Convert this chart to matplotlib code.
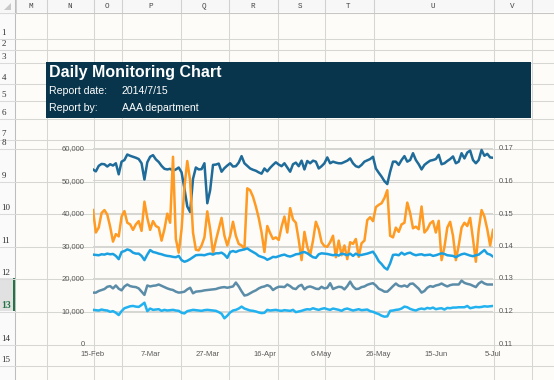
import numpy as np
import pandas as pd
import matplotlib
matplotlib.use("Agg")
import matplotlib.pyplot as plt
from matplotlib.ticker import FuncFormatter

plt.rcParams['font.family'] = ['Liberation Sans', 'DejaVu Sans']

# daily values (thousands), 15-Feb-2014 .. 5-Jul-2014
dates = pd.date_range('2014-02-15', '2014-07-05', freq='D')

s_top = [53.4, 52.8, 54.5, 55.1, 55.0, 54.3, 55.0, 54.6, 55.3, 51.9,
         55.8, 56.3, 58.0, 57.6, 57.3, 57.0, 56.6, 55.3, 50.3, 55.6,
         57.3, 57.8, 56.5, 55.7, 54.5, 53.6, 53.4, 53.6, 53.0, 53.4,
         54.0, 52.5, 47.5, 42.0, 40.3, 50.5, 54.0, 53.4, 53.5, 55.3,
         43.0, 47.0, 54.8, 54.9, 55.2, 52.7, 53.8, 54.6, 55.3, 54.3,
         54.4, 55.5, 57.5, 55.3, 54.5, 53.7, 53.3, 53.0, 52.5, 52.1,
         53.7, 52.8, 53.9, 54.8, 55.6, 54.9, 54.4, 55.3, 54.0, 52.7,
         55.0, 55.5, 54.4, 56.1, 53.4, 56.0, 55.3, 56.1, 55.8, 53.7,
         54.4, 55.3, 57.1, 55.3, 55.8, 55.5, 55.3, 55.3, 55.7, 56.1,
         56.8, 55.3, 54.4, 54.1, 54.8, 55.8, 56.2, 56.6, 57.3, 53.7,
         52.4, 51.2, 49.8, 48.9, 52.7, 55.8, 55.8, 54.8, 56.3, 57.5,
         55.8, 56.3, 58.4, 56.3, 55.0, 53.4, 54.8, 55.5, 56.1, 56.3,
         56.6, 57.9, 55.0, 55.3, 56.0, 56.6, 57.4, 55.3, 55.8, 58.4,
         56.8, 58.6, 59.2, 56.3, 55.3, 56.3, 59.4, 57.6, 58.2, 57.1,
         57.0]

s_orange = [40.9, 34.0, 35.5, 40.0, 40.9, 39.5, 35.8, 31.2, 33.5, 32.8,
            38.9, 40.6, 37.0, 36.5, 34.8, 36.5, 37.5, 34.5, 43.5, 38.5,
            34.8, 37.5, 36.0, 35.5, 31.5, 35.0, 39.8, 37.0, 57.3, 32.0,
            27.8, 35.0, 48.0, 56.0, 50.0, 34.0, 28.7, 28.5, 30.0, 32.5,
            40.5, 35.0, 27.6, 31.5, 35.0, 38.5, 33.0, 30.0, 33.0, 37.3,
            33.0, 30.5, 30.0, 29.0, 47.6, 47.0, 45.0, 42.0, 38.5, 34.0,
            28.0, 36.0, 33.8, 32.0, 32.5, 31.7, 35.8, 38.9, 34.0, 41.5,
            38.0, 37.0, 31.7, 25.5, 34.2, 29.6, 27.0, 31.5, 37.3, 35.0,
            31.0, 29.8, 29.6, 31.0, 33.0, 26.4, 31.5, 27.0, 30.0, 25.8,
            31.0, 30.5, 32.0, 26.5, 30.7, 31.5, 37.8, 38.7, 37.5, 41.8,
            42.5, 43.0, 44.6, 47.0, 33.0, 32.5, 35.5, 34.2, 36.5, 37.0,
            43.2, 40.0, 35.3, 35.8, 35.0, 42.0, 34.0, 35.0, 36.8, 37.5,
            34.0, 37.6, 25.5, 29.5, 35.5, 37.3, 33.0, 25.5, 30.0, 35.5,
            37.0, 36.0, 38.5, 32.0, 25.0, 35.0, 40.9, 38.9, 35.0, 30.0,
            34.8]

s_mid = [27.2, 27.1, 27.0, 27.3, 27.2, 27.5, 27.3, 27.4, 26.8, 25.8,
         28.0, 28.3, 28.8, 28.5, 27.8, 27.5, 27.5, 26.8, 25.5, 27.2,
         28.6, 28.0, 27.8, 27.5, 27.3, 27.0, 26.8, 26.7, 26.5, 26.4,
         26.8, 25.5, 25.0, 25.3, 25.8, 26.4, 27.0, 27.1, 27.1, 27.0,
         27.3, 27.5, 27.2, 27.6, 27.6, 27.8, 27.2, 26.2, 28.0, 28.3,
         28.0, 28.4, 28.6, 28.8, 29.1, 28.5, 28.0, 27.5, 26.8, 26.5,
         26.2, 25.6, 26.0, 26.5, 26.4, 26.7, 27.0, 27.2, 26.8, 26.6,
         26.9, 27.3, 27.4, 27.8, 28.0, 27.6, 27.0, 26.4, 26.2, 27.3,
         27.6, 27.5, 27.4, 27.2, 27.0, 27.2, 26.9, 27.5, 27.3, 27.0,
         27.5, 26.8, 27.5, 27.0, 27.1, 27.3, 27.5, 27.8, 28.1, 26.8,
         25.2, 24.3, 23.2, 22.6, 24.5, 27.1, 27.2, 27.0, 27.8, 27.2,
         27.6, 27.8, 27.3, 27.0, 27.2, 27.3, 27.0, 27.1, 27.2, 26.8,
         27.0, 27.3, 27.6, 27.4, 27.0, 26.9, 26.8, 26.4, 26.9, 27.3,
         27.5, 27.2, 26.9, 26.7, 27.0, 27.2, 27.9, 28.6, 27.5, 27.2,
         26.6]

s_gray = [15.5, 15.5, 16.0, 16.3, 16.6, 17.3, 17.5, 16.8, 17.7, 16.7,
          16.2, 17.4, 18.0, 17.5, 17.3, 17.2, 16.8, 15.8, 14.8, 17.7,
          17.4, 17.6, 17.7, 18.0, 17.6, 17.2, 16.8, 16.5, 16.3, 15.8,
          15.5, 15.6, 15.8, 16.5, 17.0, 15.3, 15.8, 15.9, 16.0, 16.2,
          16.3, 16.4, 16.5, 16.6, 16.9, 17.1, 17.2, 17.0, 17.2, 17.4,
          18.6, 17.4, 15.9, 14.6, 14.8, 15.3, 15.8, 16.2, 16.8, 17.2,
          17.4, 17.8, 17.4, 16.3, 16.9, 17.3, 17.3, 17.2, 18.0, 17.5,
          16.8, 16.6, 17.5, 17.9, 16.5, 17.2, 17.4, 17.1, 16.7, 16.6,
          17.3, 16.8, 17.0, 18.4, 16.6, 17.0, 17.3, 17.2, 16.5, 17.5,
          18.9, 17.4, 16.6, 16.7, 17.2, 17.4, 17.9, 18.2, 18.4, 17.7,
          16.7, 16.3, 15.8, 15.8, 16.6, 17.5, 18.3, 17.6, 17.4, 17.7,
          17.3, 18.2, 18.3, 17.5, 16.7, 15.5, 16.0, 17.0, 17.5, 17.3,
          17.7, 17.9, 18.3, 17.8, 17.4, 17.8, 18.0, 18.0, 18.0, 19.2,
          18.5, 18.2, 18.0, 17.6, 17.2, 18.3, 18.9, 18.3, 18.0, 18.0,
          18.0]

s_low = [10.2, 10.1, 10.0, 10.3, 10.1, 10.0, 9.6, 9.8, 9.3, 8.6,
         9.8, 10.7, 11.0, 11.3, 11.4, 11.2, 11.1, 11.7, 12.4, 9.8,
         10.6, 10.2, 10.3, 10.4, 9.9, 10.2, 10.0, 10.1, 10.2, 10.0,
         9.9, 9.3, 9.1, 9.8, 10.0, 10.2, 10.1, 10.0, 9.9, 10.1,
         10.2, 10.1, 10.0, 9.9, 9.5, 9.0, 7.6, 8.4, 9.4, 10.0,
         10.2, 10.6, 11.2, 10.6, 10.3, 10.0, 9.9, 9.7, 9.4, 9.2,
         9.3, 10.2, 10.0, 10.1, 10.2, 10.0, 9.9, 10.1, 10.0, 9.9,
         10.2, 9.5, 9.7, 9.9, 10.2, 10.4, 10.3, 10.7, 10.4, 10.2,
         10.5, 10.7, 10.4, 10.2, 10.6, 10.4, 10.2, 9.9, 10.4, 10.6,
         10.3, 10.0, 10.2, 10.4, 10.1, 10.2, 10.3, 9.8, 9.6, 9.2,
         8.9, 8.4, 8.1, 8.2, 9.9, 10.0, 10.2, 10.3, 10.6, 11.2,
         11.0, 10.5, 10.2, 10.0, 10.4, 10.6, 10.4, 10.8, 10.6, 10.9,
         10.4, 10.6, 10.7, 10.3, 10.8, 10.7, 10.9, 10.9, 11.0, 11.0,
         11.0, 11.4, 10.7, 10.9, 11.1, 11.0, 11.1, 11.3, 11.2, 11.3,
         11.4]

col_letters = ['M', 'N', 'O', 'P', 'Q', 'R', 'S', 'T', 'U', 'V']
col_edges = [15, 46, 93, 121, 180, 228, 277, 324, 373, 493, 531]
row_edges = [12, 38, 49, 62, 83, 100, 118, 139, 148, 181, 213, 246, 278, 311, 344, 365]

W, H = 554, 380
fig = plt.figure(figsize=(W / 100, H / 100), dpi=100)
fig.patch.set_facecolor('#fdfcf8')

# spreadsheet background, pixel coords
bg = fig.add_axes([0, 0, 1, 1])
bg.set_xlim(0, W)
bg.set_ylim(H, 0)
bg.axis('off')

grid_c = '#d6d6d3'
for y in row_edges[1:] + [380]:
    bg.plot([15, W], [y + 0.5, y + 0.5], color=grid_c, lw=0.75)
for x in col_edges[1:]:
    bg.plot([x + 0.5, x + 0.5], [0, H], color=grid_c, lw=0.75)

# column header
bg.add_patch(plt.Rectangle((0, 0), W, 12, color='#f7f7f7', lw=0))
bg.plot([0, W], [12.5, 12.5], color='#c6c6c6', lw=0.75)
for x in col_edges:
    bg.plot([x + 0.5, x + 0.5], [0, 12], color='#d0d0d0', lw=0.75)
for i, c in enumerate(col_letters):
    bg.text((col_edges[i] + col_edges[i + 1]) / 2, 6.5, c, fontsize=5.5,
            family='Liberation Mono', color='#444444', ha='center', va='center')
bg.add_patch(plt.Polygon([[11, 3], [11, 10], [4, 10]], color='#c8c8c8', lw=0))

# row header
bg.add_patch(plt.Rectangle((0, 12), 15, H - 12, color='#fafafa', lw=0))
bg.plot([14.5, 14.5], [0, H], color='#bdbdbd', lw=0.75)
for y in row_edges + [380]:
    bg.plot([0, 15], [y + 0.5, y + 0.5], color='#dadada', lw=0.75)
bg.add_patch(plt.Rectangle((0, 278), 13.5, 33, color='#e1e1e1', lw=0))
bg.add_patch(plt.Rectangle((13, 278), 2, 33, color='#217346', lw=0))
for i in range(len(row_edges) - 1):
    yb = row_edges[i + 1]
    if i + 1 == 13:
        bg.text(1, yb - 5, '13', fontsize=7, family='Liberation Serif',
                color='#217346', weight='bold', va='center', ha='left')
    else:
        bg.text(1.5, yb - 5, str(i + 1), fontsize=6.5, family='Liberation Serif',
                color='#333333', va='center', ha='left')

# title banner
bg.add_patch(plt.Rectangle((46, 62), 485, 56, color='#08354b', lw=0, zorder=3))
bg.text(49, 73, 'Daily Monitoring Chart', fontsize=11.5, weight='bold',
        color='white', va='center', ha='left', zorder=4)
bg.text(49, 91, 'Report date:', fontsize=7.6, color='white', va='center', zorder=4)
bg.text(122, 91, '2014/7/15', fontsize=7.6, color='white', va='center', zorder=4)
bg.text(49, 108, 'Report by:', fontsize=7.6, color='white', va='center', zorder=4)
bg.text(122, 108, 'AAA department', fontsize=7.6, color='white', va='center', zorder=4)

# chart
ax = fig.add_axes([93 / W, 1 - 343 / H, 400 / W, 195 / H])
ax.patch.set_alpha(0)
ax.plot(dates, np.array(s_top) * 1000, color='#1f6b99', lw=1.8)
ax.plot(dates, np.array(s_orange) * 1000, color='#ff9a22', lw=1.8)
ax.plot(dates, np.array(s_mid) * 1000, color='#1ba1e2', lw=1.8)
ax.plot(dates, np.array(s_gray) * 1000, color='#5b8ca8', lw=1.8)
ax.plot(dates, np.array(s_low) * 1000, color='#22b2f0', lw=1.8)

ax.set_xlim(dates[0], dates[-1])
ax.set_ylim(0, 60000)
ax.set_yticks(range(0, 60001, 10000))
ax.yaxis.set_major_formatter(FuncFormatter(lambda v, p: f'{v:,.0f}'))
ticks = pd.date_range('2014-02-15', '2014-07-05', freq='20D')
ax.set_xticks(ticks)
ax.set_xticklabels([f'{d.day}-{d.strftime("%b")}' for d in ticks])
ax.grid(axis='y', color='#d6d6d3', lw=0.75)
for sp in ax.spines.values():
    sp.set_visible(False)
ax.tick_params(length=0, labelsize=5.5, colors='#595959', pad=6)
ax.tick_params(axis='x', pad=6)

ax2 = ax.twinx()
ax2.set_ylim(0.11, 0.17)
ax2.set_yticks([0.11, 0.12, 0.13, 0.14, 0.15, 0.16, 0.17])
ax2.set_yticklabels(['0.11', '0.12', '0.13', '0.14', '0.15', '0.16', '0.17'])
for sp in ax2.spines.values():
    sp.set_visible(False)
ax2.tick_params(length=0, labelsize=5.5, colors='#595959', pad=4)

fig.savefig('out.png', dpi=100, facecolor=fig.get_facecolor())
